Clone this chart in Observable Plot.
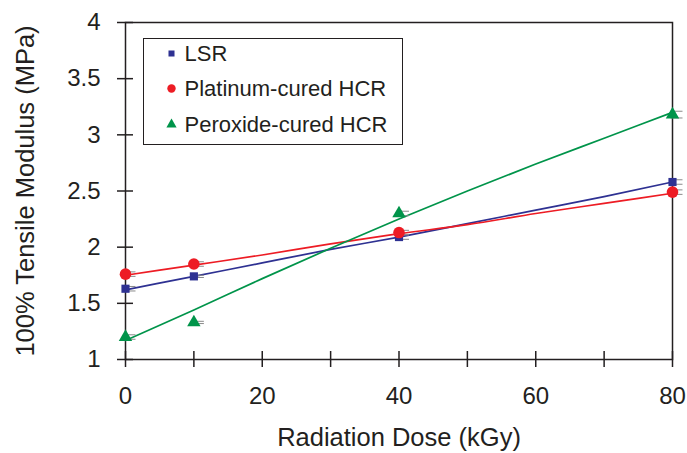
<!DOCTYPE html>
<html>
<head>
<meta charset="utf-8">
<script src="https://cdn.jsdelivr.net/npm/d3@7"></script>
<script src="https://cdn.jsdelivr.net/npm/@observablehq/plot@0.6"></script>
<style>
  html, body { margin: 0; padding: 0; background: #fff; }
  #chart { width: 687px; height: 453px; }
</style>
</head>
<body>
<div id="chart"></div>
<script>
// ---- data ----
const seriesNames = ["LSR", "Platinum-cured HCR", "Peroxide-cured HCR"];
const seriesColors = ["#2e3192", "#ed1c24", "#00944a"];
const seriesSymbols = ["square", "circle", "triangle"];

const dose = [0, 10, 40, 80];
const lsrValues = [1.63, 1.74, 2.09, 2.58];
const platValues = [1.76, 1.85, 2.13, 2.49];
const peroxValues = [1.20, 1.33, 2.30, 3.18];
const lsrErr = [0.02, 0.01, 0.02, 0.02];
const platErr = [0.02, 0.02, 0.02, 0.02];
const peroxErr = [0.02, 0.01, 0.02, 0.03];

const fitDose = [0, 10, 20, 30, 40, 50, 60, 70, 80];
const lsrFit = [1.62, 1.74, 1.86, 1.98, 2.09, 2.21, 2.33, 2.45, 2.58];
const platFit = [1.75, 1.84, 1.93, 2.03, 2.12, 2.20, 2.30, 2.39, 2.48];
const peroxFit = [1.17, 1.44, 1.72, 1.99, 2.25, 2.50, 2.74, 2.97, 3.20];

const xTicks = [0, 10, 20, 30, 40, 50, 60, 70, 80];
const xTickLabels = [0, 20, 40, 60, 80];
const yTicks = [1, 1.5, 2, 2.5, 3, 3.5, 4];

const xTitle = "Radiation Dose (kGy)";
const yTitle = "100% Tensile Modulus (MPa)";

// ---- build tables ----
const valueSets = [lsrValues, platValues, peroxValues];
const errSets = [lsrErr, platErr, peroxErr];
const fitSets = [lsrFit, platFit, peroxFit];

const points = seriesNames.map((name, s) =>
  dose.map((d, i) => ({series: name, dose: d, value: valueSets[s][i], err: errSets[s][i]})));
const fits = seriesNames.map((name, s) =>
  fitDose.map((d, i) => ({series: name, dose: d, value: fitSets[s][i]})));

const ink = "#231f20";
const font = "'Liberation Sans', Arial, Helvetica, sans-serif";

const capSymbol = { draw(ctx) { ctx.moveTo(-6, 0); ctx.lineTo(6, 0); } };

const marks = [];

// frame (axes box)
marks.push(Plot.frame({stroke: ink, strokeWidth: 1.5}));

// axes: outward ticks with labels, plus inward ticks
marks.push(Plot.axisY({ticks: yTicks, tickSize: 8, tickPadding: 17, fontSize: 24, color: ink,
  strokeWidth: 1.5, tickFormat: d => String(d), label: null}));
marks.push(Plot.axisY({ticks: yTicks, tickSize: 8, dx: 8, color: ink, strokeWidth: 1.5,
  tickFormat: () => "", label: null}));
marks.push(Plot.axisX({ticks: xTicks, tickSize: 8, tickPadding: 19, fontSize: 24, color: ink,
  strokeWidth: 1.5, tickFormat: d => xTickLabels.includes(d) ? String(d) : "", label: null}));
marks.push(Plot.axisX({ticks: xTicks, tickSize: 8, dy: -8, color: ink, strokeWidth: 1.5,
  tickFormat: () => "", label: null}));

// axis titles
marks.push(Plot.text([yTitle], {text: d => d, frameAnchor: "left", rotate: -90, dx: -100,
  fontSize: 25.5, fill: ink, textAnchor: "middle", lineAnchor: "middle"}));
marks.push(Plot.text([xTitle], {text: d => d, frameAnchor: "bottom", dy: 78,
  fontSize: 25.5, fill: ink, textAnchor: "middle", lineAnchor: "middle"}));

// fitted lines
seriesNames.forEach((name, s) => {
  marks.push(Plot.line(fits[s], {x: "dose", y: "value", stroke: seriesColors[s], strokeWidth: 1.7, curve: "monotone-x"}));
});

// error caps + markers
seriesNames.forEach((name, s) => {
  marks.push(Plot.dot(points[s], {x: "dose", y: d => d.value + d.err, symbol: capSymbol,
    stroke: "#8a8a8a", strokeWidth: 1, dx: 4}));
  marks.push(Plot.dot(points[s], {x: "dose", y: d => d.value - d.err, symbol: capSymbol,
    stroke: "#8a8a8a", strokeWidth: 1, dx: 4}));
});
const markerR = [4.6, 5.8, 5.0];
seriesNames.forEach((name, s) => {
  marks.push(Plot.dot(points[s], {x: "dose", y: "value", symbol: seriesSymbols[s],
    fill: seriesColors[s], r: markerR[s], stroke: "none"}));
});

// legend box
marks.push(Plot.frame({stroke: ink, strokeWidth: 1, insetLeft: 18, insetTop: 16, insetRight: 270, insetBottom: 215}));
const legendDy = [31, 66, 102];
const legendR = [3.4, 4.2, 3.8];
seriesNames.forEach((name, s) => {
  marks.push(Plot.dot([name], {frameAnchor: "top-left", dx: 46, dy: legendDy[s],
    symbol: seriesSymbols[s], fill: seriesColors[s], r: legendR[s]}));
  marks.push(Plot.text([name], {text: d => d, frameAnchor: "top-left", dx: 59, dy: legendDy[s],
    textAnchor: "start", lineAnchor: "middle", fontSize: 22, fill: ink}));
});

const chart = Plot.plot({
  width: 687,
  height: 453,
  marginLeft: 125,
  marginRight: 15,
  marginTop: 22,
  marginBottom: 94,
  style: {fontFamily: font, background: "#fff", color: ink},
  x: {domain: [0, 80]},
  y: {domain: [1, 4]},
  marks
});
document.getElementById("chart").appendChild(chart);
</script>
</body>
</html>
